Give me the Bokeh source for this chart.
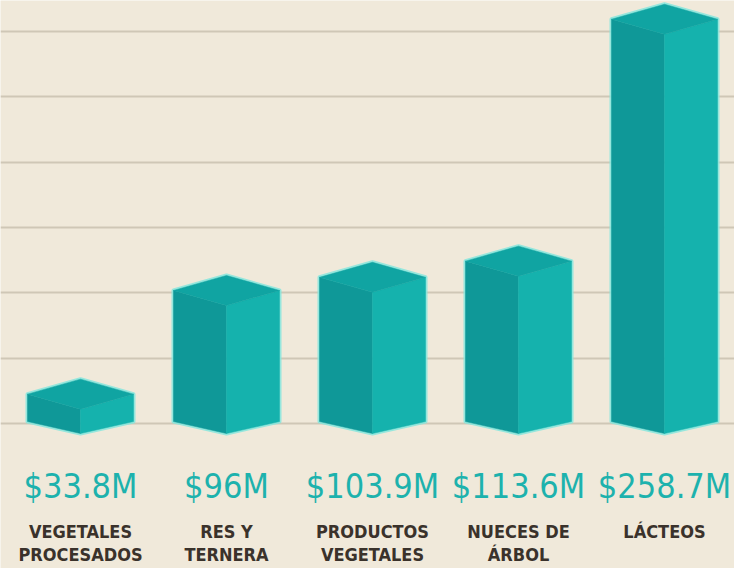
from bokeh.plotting import figure
from bokeh.models import Range1d, FixedTicker, Grid
from bokeh.embed import file_html
from bokeh.resources import INLINE
from bokeh.core.properties import value

# ---- data ----
categories = ["VEGETALES\nPROCESADOS", "RES Y\nTERNERA", "PRODUCTOS\nVEGETALES",
              "NUECES DE\nÁRBOL", "LÁCTEOS"]
values = [33.8, 96.0, 103.9, 113.6, 258.7]
value_labels = ["$33.8M", "$96M", "$103.9M", "$113.6M", "$258.7M"]
grid_ticks = [25.2, 64.2, 103.5, 142.8, 181.8, 221.2, 260.4]
bar_base = 19.2

# ---- geometry / style ----
W, H = 734, 568
PX_PER_UNIT_Y = 1.667
PX_PER_UNIT_X = 146.0
Y1 = 465 / PX_PER_UNIT_Y
Y0 = Y1 - H / PX_PER_UNIT_Y
X0 = -80 / PX_PER_UNIT_X
X1 = X0 + W / PX_PER_UNIT_X
DY = 1 / PX_PER_UNIT_Y
DX = 1 / PX_PER_UNIT_X
HALF = 53 * DX
TOP_D = 15 * DY
BOT_D = 12 * DY

BG = "#F0E9DA"
LEFT_C = "#0F9898"
RIGHT_C = "#15B2AD"
TOP_C = "#10A4A2"
GLOW = "#86E6DD"
FONT = "DejaVu Sans Condensed"

p = figure(width=W, height=H, x_range=Range1d(X0, X1), y_range=Range1d(Y0, Y1),
           output_backend="svg", toolbar_location=None, min_border=0,
           x_axis_location=None, y_axis_location=None)
p.background_fill_color = BG
p.border_fill_color = BG
p.outline_line_color = None
p.xgrid.visible = False
p.ygrid.visible = False
p.add_layout(Grid(dimension=1, ticker=FixedTicker(ticks=grid_ticks),
                  grid_line_color="#CFC7B6", grid_line_width=2))

xs = list(range(len(values)))
left_x, left_y, right_x, right_y, top_x, top_y, out_x, out_y = [], [], [], [], [], [], [], []
for c, v in zip(xs, values):
    b = bar_base
    left_x.append([c - HALF, c, c, c - HALF])
    left_y.append([v + TOP_D, v, b, b + BOT_D])
    right_x.append([c, c + HALF, c + HALF, c])
    right_y.append([v, v + TOP_D, b + BOT_D, b])
    top_x.append([c - HALF, c, c + HALF, c])
    top_y.append([v + TOP_D, v, v + TOP_D, v + 2 * TOP_D])
    out_x.append([c - HALF, c, c + HALF, c + HALF, c, c - HALF])
    out_y.append([v + TOP_D, v + 2 * TOP_D, v + TOP_D, b + BOT_D, b, b + BOT_D])

p.patches(out_x, out_y, fill_color=None, line_color=GLOW, line_width=4, line_alpha=0.85,
          line_join="round")
p.patches(left_x, left_y, fill_color=LEFT_C, line_color=LEFT_C, line_width=0.5)
p.patches(right_x, right_y, fill_color=RIGHT_C, line_color=RIGHT_C, line_width=0.5)
p.patches(top_x, top_y, fill_color=TOP_C, line_color=TOP_C, line_width=0.5)

# value labels (vertical centre of the text)
val_y = bar_base - 53 * DY
p.text(x=xs, y=[val_y] * len(xs), text=value_labels, text_align="center",
       text_baseline="middle", text_font=value(FONT),
       text_font_size="34px", text_color="#1DB2AD")

line1 = [c.split("\n")[0] for c in categories]
line2 = [c.split("\n")[1] if "\n" in c else "" for c in categories]
l1_y = bar_base - 98 * DY
l2_y = bar_base - 121 * DY
for txt, yy in ((line1, l1_y), (line2, l2_y)):
    p.text(x=xs, y=[yy] * len(xs), text=txt, text_align="center",
           text_baseline="middle", text_font=value(FONT),
           text_font_style="bold", text_font_size="18px", text_color="#3A322B")

open("out.html", "w").write(file_html(p, INLINE))
